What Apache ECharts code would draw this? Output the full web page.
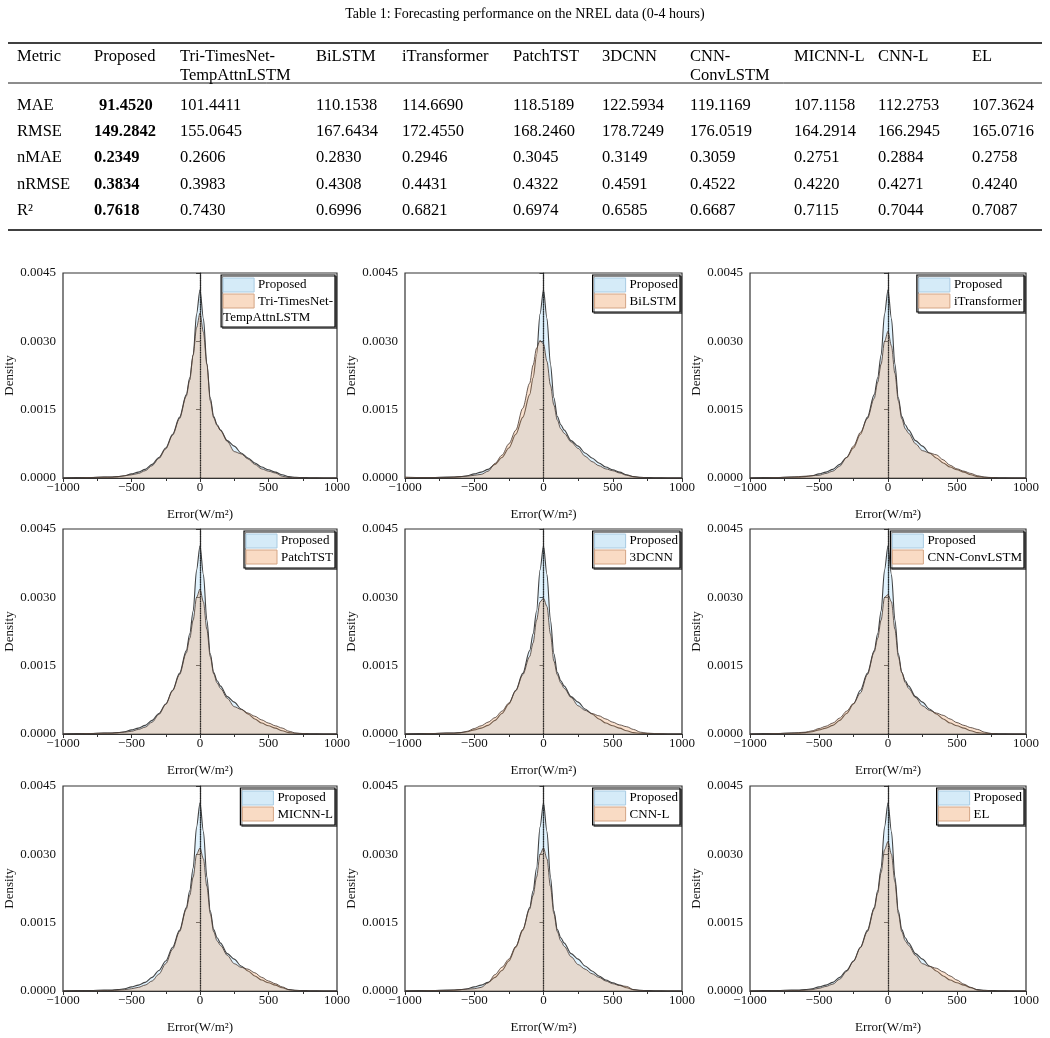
<!DOCTYPE html>
<html><head><meta charset="utf-8">
<script src="https://cdn.jsdelivr.net/npm/echarts@6/dist/echarts.min.js"></script>
<style>html,body{margin:0;padding:0;background:#fff}#c{width:1050px;height:1038px}</style>
</head><body><div id="c"></div><script>
// ---------- table data ----------
const tableTitle = 'Table 1: Forecasting performance on the NREL data (0-4 hours)';
const tableHeader = [['Metric'],['Proposed'],['Tri-TimesNet-','TempAttnLSTM'],['BiLSTM'],['iTransformer'],['PatchTST'],['3DCNN'],['CNN-','ConvLSTM'],['MICNN-L'],['CNN-L'],['EL']];
const metricNames = ['MAE','RMSE','nMAE','nRMSE','R\u00B2'];
const maeRow   = ['91.4520','101.4411','110.1538','114.6690','118.5189','122.5934','119.1169','107.1158','112.2753','107.3624'];
const rmseRow  = ['149.2842','155.0645','167.6434','172.4550','168.2460','178.7249','176.0519','164.2914','166.2945','165.0716'];
const nmaeRow  = ['0.2349','0.2606','0.2830','0.2946','0.3045','0.3149','0.3059','0.2751','0.2884','0.2758'];
const nrmseRow = ['0.3834','0.3983','0.4308','0.4431','0.4322','0.4591','0.4522','0.4220','0.4271','0.4240'];
const r2Row    = ['0.7618','0.7430','0.6996','0.6821','0.6974','0.6585','0.6687','0.7115','0.7044','0.7087'];

// ---------- density data (error grid in W/m2, density values) ----------
const errGrid = [-1000,-900,-800,-700,-650,-600,-550,-500,-450,-400,-350,-300,-250,-200,-150,-100,-75,-50,-25,0,25,50,75,100,125,150,200,250,300,350,400,450,500,550,600,650,700,750,800,900,1000];
const proposedKde = [0,0.00001,0.00001,0.00002,0.00002,0.00003,0.00005,0.00009,0.00013,0.00019,0.0003,0.00045,0.00066,0.00096,0.00133,0.00183,0.0022,0.0027,0.0036,0.00413,0.0035,0.0025,0.00176,0.00135,0.00117,0.00105,0.00082,0.0007,0.00055,0.00044,0.00033,0.00024,0.00018,0.00013,0.00007,0.00003,0.000015,0.00001,0.000005,0,0];
const triKde   = [0,0,0.00001,0.00002,0.00002,0.00003,0.00005,0.00007,0.0001,0.00016,0.00027,0.00043,0.00064,0.00094,0.0013,0.0018,0.00215,0.0027,0.0033,0.00362,0.0032,0.0025,0.0017,0.00132,0.00115,0.00104,0.0008,0.00058,0.00053,0.00042,0.0003,0.0002,0.00015,0.00011,0.00004,0.00001,0.000005,0,0,0,0];
const bilstmKde = [0.00002,0.00001,0.00001,0.00001,0.00002,0.00003,0.00004,0.00006,0.00008,0.00015,0.00032,0.0005,0.00075,0.00105,0.00153,0.00208,0.00248,0.00285,0.00302,0.00294,0.00256,0.00204,0.0016,0.00127,0.00108,0.00098,0.00079,0.00065,0.00048,0.00036,0.00027,0.0002,0.00016,0.00011,0.00006,0.00003,0.00001,0,0,0,0];
const itransKde = [0,0,0.00001,0.00002,0.00003,0.00004,0.00005,0.00006,0.0001,0.00015,0.00026,0.00045,0.0007,0.001,0.0013,0.00175,0.0021,0.0025,0.003,0.00322,0.0029,0.0023,0.0017,0.0013,0.00108,0.00098,0.00075,0.0006,0.00055,0.00051,0.0004,0.00028,0.0002,0.00015,0.0001,0.00005,0.00002,0.00001,0,0,0];
const patchKde = [0,0,0.00001,0.00002,0.00002,0.00003,0.00004,0.00006,0.0001,0.00015,0.00026,0.00043,0.00065,0.00095,0.0013,0.00178,0.0021,0.0025,0.003,0.00318,0.0029,0.0023,0.0017,0.00132,0.00112,0.001,0.00078,0.0006,0.00054,0.00046,0.00039,0.00031,0.00024,0.00018,0.00013,0.00006,0.00002,0.00001,0,0,0];
const cnn3dKde = [0,0,0.00001,0.00002,0.00002,0.00003,0.00006,0.00012,0.00018,0.00026,0.00036,0.0005,0.00068,0.00095,0.0013,0.0017,0.002,0.0025,0.0029,0.00298,0.0028,0.0022,0.0016,0.0013,0.00112,0.001,0.0008,0.00062,0.00052,0.00045,0.0004,0.00033,0.00026,0.0002,0.00016,0.0001,0.00004,0.00002,0.00001,0,0];
const convlstmKde = [0,0,0.00001,0.00002,0.00003,0.00004,0.00007,0.00012,0.00017,0.00024,0.00035,0.0005,0.00067,0.0009,0.0013,0.0018,0.0021,0.0025,0.003,0.00306,0.0029,0.0023,0.0017,0.00135,0.00113,0.001,0.0008,0.00062,0.00052,0.00046,0.00041,0.00033,0.00025,0.00019,0.00014,0.0001,0.00004,0.00001,0,0,0];
const micnnKde = [0,0,0,0.00001,0.00001,0.00002,0.00003,0.00005,0.00008,0.00013,0.00022,0.00037,0.0006,0.00092,0.0013,0.0018,0.0021,0.0025,0.003,0.00314,0.0029,0.0023,0.0017,0.0013,0.0011,0.001,0.00078,0.0006,0.00052,0.00048,0.0004,0.0003,0.00022,0.00016,0.00009,0.00003,0.00001,0,0,0,0];
const cnnlKde = [0,0,0.00001,0.00001,0.00002,0.00003,0.00004,0.00005,0.00008,0.00018,0.00036,0.00052,0.0007,0.00098,0.00135,0.0018,0.0021,0.0025,0.003,0.00314,0.0029,0.0023,0.0017,0.0013,0.0011,0.00098,0.00075,0.00058,0.00048,0.00038,0.0003,0.00022,0.00016,0.00012,0.0001,0.00003,0.00001,0,0,0,0];
const elKde = [0,0,0,0.00001,0.00001,0.00002,0.00003,0.00006,0.0001,0.00015,0.00026,0.00043,0.00065,0.00095,0.0013,0.0018,0.00215,0.0026,0.0031,0.00328,0.003,0.0024,0.0017,0.0013,0.0011,0.001,0.00078,0.0006,0.00054,0.0005,0.00042,0.00033,0.00024,0.00015,0.00008,0.00002,0.00001,0,0,0,0];

const modelNames = ['Tri-TimesNet-TempAttnLSTM','BiLSTM','iTransformer','PatchTST','3DCNN','CNN-ConvLSTM','MICNN-L','CNN-L','EL'];
const legendLines = [['Tri-TimesNet-','TempAttnLSTM'],['BiLSTM'],['iTransformer'],['PatchTST'],['3DCNN'],['CNN-ConvLSTM'],['MICNN-L'],['CNN-L'],['EL']];
const modelKdes = [triKde,bilstmKde,itransKde,patchKde,cnn3dKde,convlstmKde,micnnKde,cnnlKde,elKde];
const yTicks = [0,0.0015,0.003,0.0045];
const xTicks = [-1000,-500,0,500,1000];

// ---------- layout ----------
const FONT = '"Liberation Serif","Times New Roman",serif';
const colLeft = [63,405,750], colWidth = [274,277,276];
const rowTop = [273,529,786], rowH = 205;
const mctx = document.createElement('canvas').getContext('2d');
function tw(t,size,weight){ mctx.font=(weight||'normal')+' '+size+'px '+FONT; return mctx.measureText(t).width; }

const chart = echarts.init(document.getElementById('c'), null, {renderer:'canvas'});
const grids=[], xAxes=[], yAxes=[], series=[], graphics=[];

function txt(x,y,text,size,opts){
  opts=opts||{};
  return {type:'text', x:x, y:y, silent:true, z:100, style:{text:text, fontFamily:FONT, fontSize:size, fontWeight:opts.bold?'bold':'normal', fill:'#000',
    align:opts.align||'left', verticalAlign:'middle', textAlign:opts.align||'left', textVerticalAlign:'middle'}};
}
function hline(x1,x2,y,w){ return {type:'line', silent:true, z:100, shape:{x1:x1,y1:y,x2:x2,y2:y}, style:{stroke:'#000', lineWidth:w}}; }

// table
const TS = 16.5;
graphics.push(txt(525,14,tableTitle,14,{align:'center'}));
graphics.push(hline(8,1042,43,1.4));
graphics.push(hline(8,1042,83,0.9));
graphics.push(hline(8,1042,230,1.4));
const colX = [17,94,180,316,402,513,602,690,794,878,972];
tableHeader.forEach((h,c)=>{ h.forEach((line,k)=>graphics.push(txt(colX[c],57+k*19,line,TS))); });
const rows=[maeRow,rmseRow,nmaeRow,nrmseRow,r2Row];
const rowY=[106,132,158,185,211];
rows.forEach((r,ri)=>{
  graphics.push(txt(colX[0],rowY[ri],metricNames[ri],TS));
  r.forEach((v,ci)=>{ graphics.push(txt(colX[ci+1]+(ri===0&&ci===0?5:0),rowY[ri],v,TS,{bold:ci===0})); });
});

const axisColor='#333';
const lblStyle={fontFamily:FONT,fontSize:13,color:'#111'};
for(let i=0;i<9;i++){
  const r=Math.floor(i/3), c=i%3;
  const L=colLeft[c], W=colWidth[c], T=rowTop[r];
  grids.push({left:L, top:T, width:W, height:rowH, show:true, borderColor:axisColor, borderWidth:1.2, backgroundColor:'transparent', containLabel:false});
  xAxes.push({gridIndex:i, type:'value', min:xTicks[0], max:xTicks[xTicks.length-1], interval:500,
    axisLine:{show:true,onZero:false,lineStyle:{color:axisColor,width:1.2}},
    axisTick:{show:true,inside:false,length:4,lineStyle:{color:axisColor}},
    minorTick:{show:true,splitNumber:2,length:3,lineStyle:{color:axisColor}},
    splitLine:{show:false},
    axisLabel:Object.assign({margin:3, showMinLabel:true, showMaxLabel:true, formatter:v=>v<0?'\u2212'+Math.abs(v):String(v)},lblStyle),
    name:'Error(W/m\u00B2)', nameLocation:'middle', nameGap:30, nameTextStyle:{fontFamily:FONT,fontSize:13,color:'#111'}});
  yAxes.push({gridIndex:i, type:'value', min:yTicks[0], max:yTicks[yTicks.length-1], interval:0.0015,
    axisLine:{show:true,lineStyle:{color:axisColor,width:1.2}},
    axisTick:{show:true,inside:false,length:4,lineStyle:{color:axisColor}},
    splitLine:{show:false},
    axisLabel:Object.assign({margin:7, showMinLabel:true, showMaxLabel:true, formatter:v=>v.toFixed(4)},lblStyle),
    name:'Density', nameLocation:'middle', nameGap:39, nameRotate:90, nameTextStyle:{fontFamily:FONT,fontSize:13,color:'#111'}});
  series.push({type:'line', name:'Proposed', xAxisIndex:i, yAxisIndex:i, showSymbol:false, smooth:0.3, smoothMonotone:'x', z:2,
    data:errGrid.map((x,j)=>[x,proposedKde[j]]),
    lineStyle:{color:'#2e2e2e',width:1.1,opacity:0.9}, areaStyle:{color:'rgba(135,206,250,0.36)'}});
  series.push({type:'line', name:modelNames[i], xAxisIndex:i, yAxisIndex:i, showSymbol:false, smooth:0.3, smoothMonotone:'x', z:3,
    data:errGrid.map((x,j)=>[x,modelKdes[i][j]]),
    lineStyle:{color:'#4d4038',width:1,opacity:0.85}, areaStyle:{color:'rgba(240,160,100,0.44)'},
    markLine:{silent:true, symbol:['none','none'], label:{show:false}, lineStyle:{type:'dotted',color:'#222',width:1.2}, data:[{xAxis:0}]}});
  // legend box
  const lines=legendLines[i];
  const textW=Math.max(tw('Proposed',13), tw(lines[0],13));
  const boxW=37+textW+2;
  const boxH=lines.length>1?52:37;
  const bx=L+W-2-boxW, by=T+2;
  const ch=[];
  ch.push({type:'rect', shape:{x:bx,y:by,width:boxW,height:boxH}, style:{fill:'#fff',stroke:'#000',lineWidth:1.2,shadowColor:'rgba(0,0,0,0.45)',shadowOffsetX:1.5,shadowOffsetY:1.5,shadowBlur:0}});
  ch.push({type:'rect', shape:{x:bx+2,y:by+3,width:31,height:14}, style:{fill:'#d5ebf8',stroke:'#a8cbe2',lineWidth:1}});
  ch.push({type:'rect', shape:{x:bx+2,y:by+19,width:31,height:14}, style:{fill:'#f9dbc4',stroke:'#d4a585',lineWidth:1}});
  ch.push(txt(bx+37,by+10,'Proposed',13));
  ch.push(txt(bx+37,by+27,lines[0],13));
  if(lines.length>1) ch.push(txt(bx+2,by+43,lines[1],13));
  graphics.push({type:'group', z:100, children:ch});
}

chart.setOption({animation:false, backgroundColor:'#fff', grid:grids, xAxis:xAxes, yAxis:yAxes, series:series, graphic:{elements:graphics}});
</script></body></html>
